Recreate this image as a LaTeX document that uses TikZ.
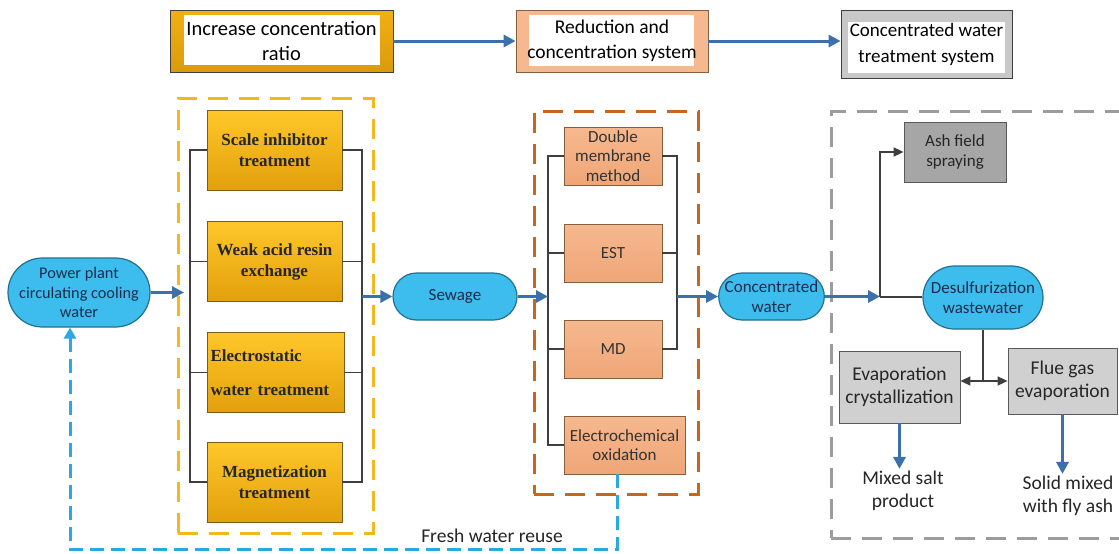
\documentclass[tikz,border=0pt]{standalone}
\usepackage{fontspec}
\setmainfont{Carlito}
\newfontfamily\tnr{Liberation Serif}
\usetikzlibrary{arrows.meta,shapes.misc,calc}
\definecolor{goldA}{HTML}{F2B014}
\definecolor{goldB}{HTML}{DB9A0A}
\definecolor{ylwA}{HTML}{FFC72A}
\definecolor{ylwB}{HTML}{E2A00C}
\definecolor{ylwEdge}{HTML}{7A5C16}
\definecolor{orgA}{HTML}{F6B88E}
\definecolor{orgB}{HTML}{EFA677}
\definecolor{orgEdge}{HTML}{85603F}
\definecolor{cyanF}{HTML}{3DBDED}
\definecolor{cyanE}{HTML}{23708F}
\definecolor{navyT}{HTML}{1B2C4C}
\definecolor{arrowB}{HTML}{3B70AA}
\definecolor{darkL}{HTML}{3F3F3F}
\definecolor{ydash}{HTML}{F2B81C}
\definecolor{odash}{HTML}{C8661E}
\definecolor{gdash}{HTML}{9C9C9C}
\definecolor{fresh}{HTML}{2AA9E0}
\definecolor{grayM}{HTML}{A6A6A6}
\definecolor{grayL}{HTML}{D0D0D0}
\definecolor{grayT}{HTML}{C8C8C8}
\tikzset{
  innerwhite/.style n args={4}{path picture={\fill[white]
     ([xshift=#1,yshift=#4]path picture bounding box.south west) rectangle
     ([xshift=-#2,yshift=-#3]path picture bounding box.north east);}},
  topbox/.style={draw=darkL, line width=0.8pt, inner sep=0pt, align=center, text=black},
  ybox/.style={draw=ylwEdge, line width=0.8pt, top color=ylwA, bottom color=ylwB,
     minimum width=135pt, minimum height=80pt, inner sep=3.5pt, align=center, text=black!85,
     font=\tnr\bfseries\fontsize{17}{21}\selectfont},
  obox/.style={draw=orgEdge, line width=0.8pt, top color=orgA, bottom color=orgB,
     minimum width=98pt, minimum height=58pt, inner sep=0pt, align=center, text=black!80,
     font=\fontsize{17}{19.5}\selectfont},
  gbox/.style={draw=black!65, line width=0.8pt, inner sep=0pt, align=center, text=black!85,
     font=\fontsize{17}{20}\selectfont},
  stad/.style={rounded rectangle, draw=cyanE, line width=1.2pt, fill=cyanF, text=navyT,
     inner sep=0pt, align=center, font=\fontsize{17}{19.5}\selectfont},
  bus/.style={draw=darkL, line width=1.5pt},
  barrow/.style={draw=arrowB, line width=3pt, -{Triangle[length=12pt,width=12pt]}},
  darrow/.style={draw=darkL, line width=1.6pt, -{Triangle[length=10pt,width=9pt]}},
  grp/.style={line width=3pt, dash pattern=on 20pt off 11pt, inner sep=0pt},
  plain/.style={inner sep=2pt, align=center, text=black!85, font=\fontsize{19.5}{23}\selectfont}
}
\begin{document}
\begin{tikzpicture}[x=1pt,y=-1pt]
\useasboundingbox[fill=white] (0,0) rectangle (1119,554);

% ---- top row ----
\node[topbox, top color=goldA, bottom color=goldB, minimum width=223pt, minimum height=62pt,
  innerwhite={14pt}{13pt}{5pt}{7pt}, font=\fontsize{20.5}{25}\selectfont]
  (inc) at (281.5,41) {Increase concentration\\ratio};
\node[topbox, fill=orgA, draw=orgEdge, minimum width=192pt, minimum height=62pt,
  innerwhite={13pt}{14pt}{5pt}{6pt}, font=\fontsize{19.5}{25}\selectfont]
  (red) at (612,41) {Reduction and\\concentration system};
\node[topbox, fill=grayT, minimum width=171pt, minimum height=68pt,
  innerwhite={7pt}{7pt}{12pt}{5pt}, font=\fontsize{19}{26}\selectfont]
  (cwts) at (926.5,44) {Concentrated water\\treatment system};
\draw[barrow] (inc.east) -- (red.west);
\draw[barrow] (red.east) -- (red.east -| cwts.west);

% ---- group frames ----
\node[grp, draw=ydash, minimum width=195pt, minimum height=435pt] (ygrp) at (275.5,315.5) {};
\node[grp, draw=odash, minimum width=164pt, minimum height=383pt] (ogrp) at (616,302.5) {};
\node[grp, draw=gdash, minimum width=290pt, minimum height=427pt] (ggrp) at (976,324.5) {};

% ---- bus coordinates ----
\coordinate (yl) at (190,0);
\coordinate (yr) at (362,0);
\coordinate (ol) at (548,0);
\coordinate (or) at (677,0);
\coordinate (yin) at (184,0);
\coordinate (j) at (880,297);
\coordinate (fw) at (70,549);

% ---- yellow group ----
\node[ybox] (y1) at (274.5,150) {Scale inhibitor\\treatment};
\node[ybox] (y2) at (274.5,261.5) {Weak acid resin\\exchange};
\node[ybox, minimum width=137pt, text width=130pt, align=left] (y3) at (275.5,372.5) {Electrostatic\\[13pt]water treatment};
\node[ybox] (y4) at (274.5,482) {Magnetization\\treatment};
\draw[bus] (y1.west) -- (y1.west -| yl) -- (y4.west -| yl) -- (y4.west);
\draw[bus] (y2.west) -- (y2.west -| yl);
\draw[bus] (y3.west) -- (y3.west -| yl);
\draw[bus] (y1.east) -- (y1.east -| yr) -- (y4.east -| yr) -- (y4.east);
\draw[bus] (y2.east) -- (y2.east -| yr);
\draw[bus] (y3.east) -- (y3.east -| yr);

% ---- orange group ----
\node[obox] (o1) at (613,156) {Double\\membrane\\method};
\node[obox] (o2) at (613,253) {EST};
\node[obox] (o3) at (613,349) {MD};
\node[obox, minimum width=121pt] (o4) at (624.5,445) {Electrochemical\\oxidation};
\draw[bus] (o1.west) -- (o1.west -| ol) -- (o4.west -| ol) -- (o4.west);
\draw[bus] (o2.west) -- (o2.west -| ol);
\draw[bus] (o3.west) -- (o3.west -| ol);
\draw[bus] (o1.east) -- (o1.east -| or) -- (o3.east -| or) -- (o3.east);
\draw[bus] (o2.east) -- (o2.east -| or);

% ---- stadium nodes ----
\node[stad, minimum width=142pt, minimum height=69pt, font=\fontsize{16.3}{19.5}\selectfont]
  (pp) at (79,292.5) {Power plant\\circulating cooling\\water};
\node[stad, minimum width=124pt, minimum height=47pt] (sew) at (455,296.5) {Sewage};
\node[stad, minimum width=103pt, minimum height=47pt] (cw) at (771.5,296.5) {Concentrated\\water};
\node[stad, minimum width=120pt, minimum height=63pt] (des) at (983,297.5) {Desulfurization\\wastewater};

\draw[barrow] (pp.east) -- (pp.east -| yin);
\draw[barrow] (yr |- sew.west) -- (sew.west);
\draw[barrow] (sew.east) -- (sew.east -| ol);
\draw[barrow] (or |- cw.west) -- (cw.west);
\draw[barrow] (cw.east) -- (cw.east -| j);

% ---- right group ----
\node[gbox, fill=grayM, minimum width=102pt, minimum height=60pt] (ash) at (955,152) {Ash field\\spraying};
\node[gbox, fill=grayL, minimum width=121pt, minimum height=72pt, font=\fontsize{19.5}{23}\selectfont]
  (evap) at (899.5,387) {Evaporation\\crystallization};
\node[gbox, fill=grayL, minimum width=109pt, minimum height=66pt, font=\fontsize{19.5}{23}\selectfont]
  (flue) at (1062.5,381) {Flue gas\\evaporation};
\draw[darrow] (j) |- (ash.west);
\draw[bus] (j) -- (j -| des.west);
\coordinate (k) at (des.south |- flue.west);
\draw[bus] (des.south) -- (k);
\draw[darrow] (k) -- (k -| evap.east);
\draw[darrow] (k) -- (flue.west);

\node[plain] (ms) at (903,491) {Mixed salt\\product};
\node[plain] (sfa) at (1068,496) {Solid mixed\\with fly ash};
\draw[barrow] (evap.south) -- (evap.south |- ms.north);
\draw[barrow] (flue.south) -- (flue.south |- sfa.north);

% ---- fresh water reuse ----
\draw[draw=fresh, line width=3pt, dash pattern=on 14pt off 7pt, -{Triangle[length=11pt,width=12pt]}]
  ([xshift=-7.5pt]o4.south) |- (fw) -- (fw |- pp.south);
\node[plain] (fwr) at (492,536) {Fresh water reuse};
\end{tikzpicture}
\end{document}
